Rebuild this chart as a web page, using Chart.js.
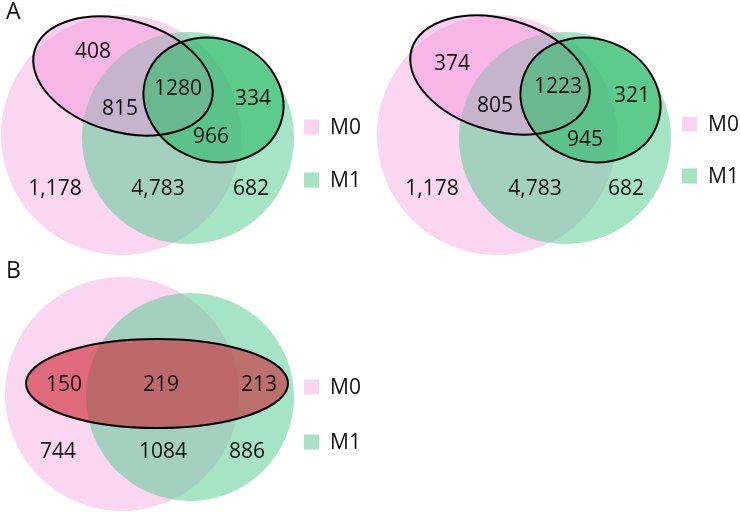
<!DOCTYPE html>
<html>
<head>
<meta charset="utf-8">
<script src="https://cdn.jsdelivr.net/npm/chart.js@4.4.1/dist/chart.umd.min.js"></script>
<style>
  html, body { margin: 0; padding: 0; background: #fff; }
  #wrap { width: 740px; height: 512px; position: relative; }
</style>
</head>
<body>
<div id="wrap"><canvas id="venn"></canvas></div>
<script>
// set names (legend)
const setNames = ['M0', 'M1'];
const panelTitles = ['A', '', 'B'];

// region counts, panel A (left and right): sub-ellipses inside the two circles
// order: M0 sub only, M0 sub & M1, both subs, M1 sub only, M1 sub & M0, M0 only, M0 & M1, M1 only
const countsA1 = [408, 815, 1280, 334, 966, 1178, 4783, 682];
const countsA2 = [374, 805, 1223, 321, 945, 1178, 4783, 682];
// regions that are written with a thousands separator in panel A
const groupedA = [false, false, false, false, false, true, true, true];

// panel B: one ellipse across both circles
// order: ellipse & M0 only, ellipse & both, ellipse & M1 only, M0 only, M0 & M1, M1 only
const countsB = [150, 219, 213, 744, 1084, 886];
const groupedB = [false, false, false, false, false, false];

// ---- layout (pixel-like data units, scales run 0..740 and 0..512) ----
const labelPosA1 = [[93, 52], [120, 109], [178, 89], [253, 99], [211, 137], [55, 189], [158, 189], [251, 189]];
const labelPosA2 = [[452, 64], [495, 106], [558, 87], [632, 96], [585, 140], [432, 189], [535, 189], [626, 189]];
const labelPosB = [[64, 385], [161, 385], [259, 385], [58, 452], [163, 452], [247, 452]];

const PINK = '#fbd6f1';
const GREEN = 'rgba(77, 201, 141, 0.5)';
const PINK_SUB = 'rgba(240, 147, 220, 0.45)';
const GREEN_SUB = 'rgba(43, 186, 101, 0.6)';
const RED_SUB = 'rgba(205, 40, 52, 0.62)';

const panels = [
  {
    circles: [{ x: 121, y: 135, r: 120, fill: PINK }, { x: 188, y: 138, r: 106, fill: GREEN }],
    ellipses: [
      { x: 123, y: 76, a: 92, b: 56, rot: 16, fill: PINK_SUB },
      { x: 213.5, y: 100, a: 71, b: 61, rot: 20, fill: GREEN_SUB }
    ],
    legend: { x: 304, y: [127, 180] },
    title: { x: 14, y: 12 }
  },
  {
    circles: [{ x: 497, y: 135, r: 120, fill: PINK }, { x: 565, y: 138, r: 106, fill: GREEN }],
    ellipses: [
      { x: 500, y: 75, a: 92, b: 56, rot: 16, fill: PINK_SUB },
      { x: 590.5, y: 100, a: 71, b: 61, rot: 20, fill: GREEN_SUB }
    ],
    legend: { x: 682, y: [124, 176] },
    title: null
  },
  {
    circles: [{ x: 122, y: 394, r: 117, fill: PINK }, { x: 190, y: 397, r: 104, fill: GREEN }],
    ellipses: [
      { x: 157, y: 383.5, a: 131, b: 44.5, rot: 0, fill: RED_SUB }
    ],
    legend: { x: 304, y: [387, 442] },
    title: { x: 14, y: 271 }
  }
];

const legendColors = ['#f9d3ef', '#a6e2c6'];
const FONT = '"Open Sans", "Noto Sans", sans-serif';

function fmt(v, grouped) {
  return grouped ? v.toLocaleString('en-US') : String(v);
}

function makeDataset(counts, grouped, positions) {
  return {
    data: counts.map((v, i) => ({ x: positions[i][0], y: positions[i][1], v: v, g: grouped[i] })),
    pointRadius: 0,
    pointHoverRadius: 0
  };
}

const vennPlugin = {
  id: 'venn',
  beforeDatasetsDraw(chart) {
    const ctx = chart.ctx;
    const xs = chart.scales.x;
    const ys = chart.scales.y;
    const px = v => xs.getPixelForValue(v);
    const py = v => ys.getPixelForValue(v);
    const sx = d => Math.abs(xs.getPixelForValue(d) - xs.getPixelForValue(0));
    const sy = d => Math.abs(ys.getPixelForValue(d) - ys.getPixelForValue(0));
    ctx.save();
    panels.forEach(p => {
      p.circles.forEach(c => {
        ctx.beginPath();
        ctx.ellipse(px(c.x), py(c.y), sx(c.r), sy(c.r), 0, 0, Math.PI * 2);
        ctx.fillStyle = c.fill;
        ctx.fill();
      });
      p.ellipses.forEach(e => {
        ctx.beginPath();
        ctx.ellipse(px(e.x), py(e.y), sx(e.a), sy(e.b), e.rot * Math.PI / 180, 0, Math.PI * 2);
        ctx.fillStyle = e.fill;
        ctx.fill();
      });
      // outlines go on top so both stay black
      p.ellipses.forEach(e => {
        ctx.beginPath();
        ctx.ellipse(px(e.x), py(e.y), sx(e.a), sy(e.b), e.rot * Math.PI / 180, 0, Math.PI * 2);
        ctx.lineWidth = 2;
        ctx.strokeStyle = '#000';
        ctx.stroke();
      });

      // legend
      setNames.forEach((name, i) => {
        const lx = px(p.legend.x);
        const ly = py(p.legend.y[i]);
        ctx.fillStyle = legendColors[i];
        ctx.fillRect(lx, ly - 7.5, 15, 15);
        ctx.fillStyle = '#111';
        ctx.font = '21px ' + FONT;
        ctx.textAlign = 'left';
        ctx.textBaseline = 'middle';
        ctx.fillText(name, lx + 26, ly + 1);
      });
    });
    ctx.restore();
  },
  afterDatasetsDraw(chart) {
    const ctx = chart.ctx;
    ctx.save();
    ctx.fillStyle = '#111';
    ctx.textAlign = 'center';
    ctx.textBaseline = 'middle';
    ctx.font = '21px ' + FONT;
    chart.data.datasets.forEach((ds, di) => {
      const meta = chart.getDatasetMeta(di);
      meta.data.forEach((pt, i) => {
        const d = ds.data[i];
        ctx.fillText(fmt(d.v, d.g), pt.x, pt.y);
      });
    });
    // panel letters
    ctx.font = '23px ' + FONT;
    ctx.textAlign = 'left';
    panels.forEach((p, i) => {
      if (!p.title) return;
      ctx.fillText(panelTitles[i], chart.scales.x.getPixelForValue(p.title.x) - 8, chart.scales.y.getPixelForValue(p.title.y));
    });
    ctx.restore();
  }
};

new Chart(document.getElementById('venn'), {
  type: 'scatter',
  data: {
    datasets: [
      makeDataset(countsA1, groupedA, labelPosA1),
      makeDataset(countsA2, groupedA, labelPosA2),
      makeDataset(countsB, groupedB, labelPosB)
    ]
  },
  options: {
    responsive: true,
    maintainAspectRatio: false,
    animation: false,
    layout: { padding: 0 },
    scales: {
      x: { type: 'linear', min: 0, max: 740, display: false },
      y: { type: 'linear', min: 0, max: 512, reverse: true, display: false }
    },
    plugins: {
      legend: { display: false },
      tooltip: { enabled: false }
    },
    events: []
  },
  plugins: [vennPlugin]
});
</script>
</body>
</html>
